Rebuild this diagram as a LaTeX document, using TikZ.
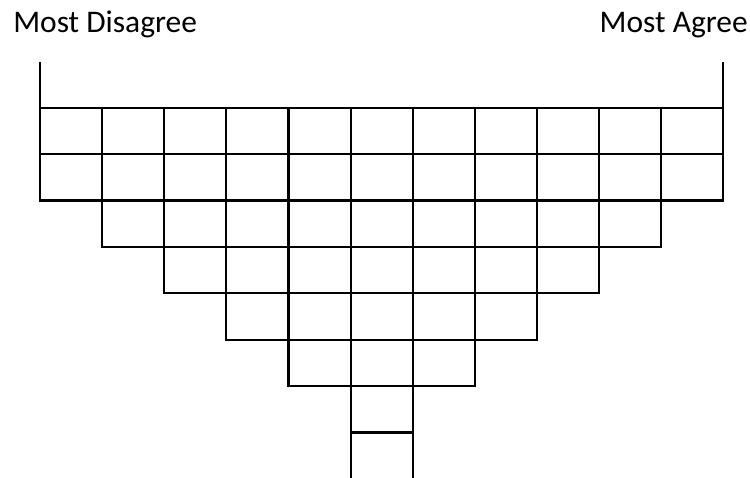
\documentclass[tikz,border=0pt]{standalone}
\usepackage{fontspec}
\setmainfont{Carlito}
\usepackage{tikz}
\tikzset{
  gridline/.style={line width=1.6pt, black},
  headlabel/.style={font=\fontsize{23.6}{28}\selectfont, inner sep=0pt}
}

\begin{document}
\begin{tikzpicture}[x=0.75pt, y=-0.75pt]
  \useasboundingbox (0,0) rectangle (750,478);
  % grid parameters (in px of the reference)
  \def\xo{40}      % left edge of the grid
  \def\yo{107.7}   % top edge of the grid
  \def\cw{62.12}   % column width
  \def\rh{46.4}    % row height
  % header labels
  \node[headlabel, anchor=base west] (disagree) at (13,33) {Most Disagree};
  \node[headlabel, anchor=base east] (agree) at (748,33) {Most Agree};
  % end posts above the grid
  \draw[gridline] (\xo,62) -- (\xo,\yo);
  \draw[gridline] ({\xo+11*\cw},62) -- ({\xo+11*\cw},\yo);
  % columns of cells: column/number of closed cells
  \foreach \c/\n in {1/2,2/3,3/4,4/5,5/6,6/7,7/6,8/5,9/4,10/3,11/2} {
    \foreach \r in {1,...,\n} {
      \draw[gridline] ({\xo+(\c-1)*\cw},{\yo+(\r-1)*\rh})
        rectangle ({\xo+\c*\cw},{\yo+\r*\rh});
    }
  }
  % open cell at the bottom of the middle column
  \draw[gridline] ({\xo+5*\cw},{\yo+7*\rh}) -- ({\xo+5*\cw},478);
  \draw[gridline] ({\xo+6*\cw},{\yo+7*\rh}) -- ({\xo+6*\cw},478);
\end{tikzpicture}
\end{document}
